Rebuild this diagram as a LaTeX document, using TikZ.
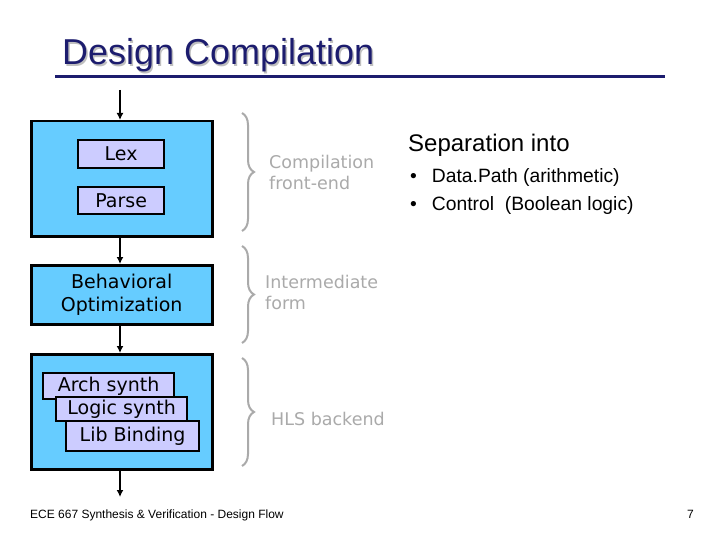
\documentclass[tikz,border=0pt]{standalone}
\usepackage{fontspec}
\setmainfont{Liberation Sans}
\newfontfamily\boxfont{DejaVu Sans}
\usetikzlibrary{arrows.meta,decorations.pathreplacing}

\definecolor{navy}{HTML}{1C1C6E}
\definecolor{stageblue}{HTML}{66CCFF}
\definecolor{passlav}{HTML}{CCCCFF}
\definecolor{bracegray}{HTML}{AAAAAA}

\begin{document}
\begin{tikzpicture}[x=1pt, y=-1pt, >={Latex[length=7pt,width=7pt]},
	stage/.style={draw=black, line width=2.5pt, fill=stageblue, anchor=north west, inner sep=0pt,
		font=\boxfont\fontsize{19}{23}\selectfont, align=center},
	pass/.style={draw=black, line width=2.2pt, fill=passlav, anchor=north west, inner sep=0pt,
		font=\boxfont\fontsize{19}{23}\selectfont},
	flow/.style={->, line width=2.4pt},
	phase/.style={decorate, decoration={brace, amplitude=12pt, raise=0pt}, draw=bracegray, line width=2pt},
	phaselabel/.style={text=bracegray, font=\boxfont\fontsize{17.5}{21}\selectfont, align=left, anchor=west, inner sep=0pt}]
	\useasboundingbox (0,0) rectangle (720,540);
	\fill[white] (0,0) rectangle (720,540);

	% title
	\node[text=black!25, font=\fontsize{36}{40}\selectfont, anchor=base west, inner sep=0pt] at (63.5,66.5) {Design Compilation};
	\node[text=navy, font=\fontsize{36}{40}\selectfont, anchor=base west, inner sep=0pt] (title) at (62,65) {Design Compilation};
	\draw[navy, line width=3pt] (55,77) -- (665,77);

	% stages
	\node[stage, minimum width=181, minimum height=115] (front) at (30,120) {};
	\node[pass, minimum width=86, minimum height=28] (lex) at (77,139) {Lex};
	\node[pass, minimum width=86, minimum height=27] (parse) at (77,186) {Parse};
	\node[stage, minimum width=181, minimum height=59] (behav) at (30,264) {Behavioral\\Optimization};
	\node[stage, minimum width=181, minimum height=115] (back) at (30,353) {};
	\node[pass, minimum width=131, minimum height=26] (arch) at (42,372) {Arch synth};
	\node[pass, minimum width=131, minimum height=24] (logic) at (55,396) {Logic synth};
	\node[pass, minimum width=133, minimum height=30] (lib) at (65,420) {Lib Binding};

	% flow
	\coordinate (in) at (120,90);
	\coordinate (out) at (120,497);
	\draw[flow] (in) -- (front.north -| in);
	\draw[flow] (front.south -| in) -- (behav.north -| in);
	\draw[flow] (behav.south -| in) -- (back.north -| in);
	\draw[flow] (back.south -| in) -- (out);

	% phases
	\draw[phase] (242,113) -- (242,231);
	\draw[phase] (242,246) -- (242,343);
	\draw[phase] (242,358) -- (242,466);
	\node[phaselabel] (fe) at (269,172) {Compilation\\front-end};
	\node[phaselabel] (ir) at (265,292) {Intermediate\\form};
	\node[phaselabel] (hls) at (271,419) {HLS backend};

	% separation
	\node[anchor=base west, inner sep=0pt, font=\fontsize{24}{28}\selectfont] (sep) at (408,152) {Separation into};
	\node[anchor=base west, inner sep=0pt, font=\fontsize{19.3}{23}\selectfont] (dp) at (410,183) {\textbullet\hspace{15pt}Data.Path (arithmetic)};
	\node[anchor=base west, inner sep=0pt, font=\fontsize{19.3}{23}\selectfont] (ctl) at (410,211) {\textbullet\hspace{15pt}Control\ \ (Boolean logic)};

	% footer
	\node[anchor=base west, inner sep=0pt, font=\fontsize{12}{14}\selectfont] (foot) at (30,518) {ECE 667 Synthesis \& Verification - Design Flow};
	\node[anchor=base east, inner sep=0pt, font=\fontsize{12}{14}\selectfont] (page) at (694,518) {7};
\end{tikzpicture}
\end{document}
